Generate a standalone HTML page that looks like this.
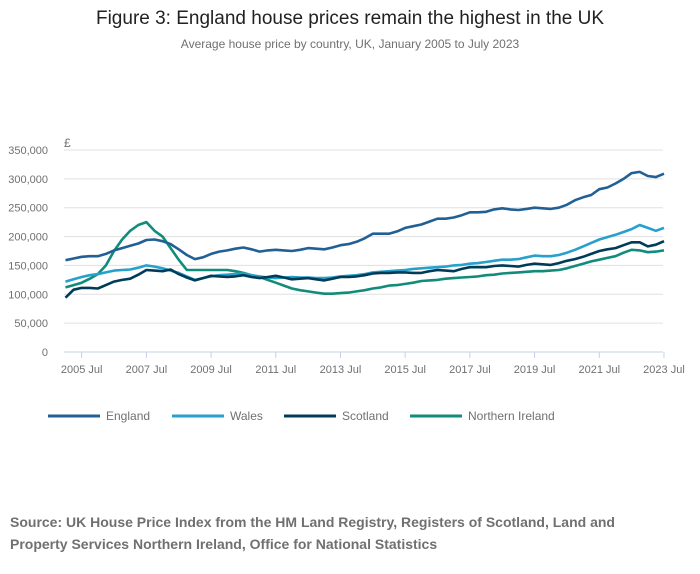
<!DOCTYPE html>
<html><head><meta charset="utf-8"><style>
body{margin:0;background:#fff;font-family:"Liberation Sans",sans-serif;}
#wrap{position:relative;width:700px;height:574px;overflow:hidden}
</style></head><body>
<div id="wrap">
<svg id="chart" width="700" height="574">
<text x="350" y="24" text-anchor="middle" font-size="19" fill="#222">Figure 3: England house prices remain the highest in the UK</text>
<text x="350" y="48" text-anchor="middle" font-size="12" fill="#707070">Average house price by country, UK, January 2005 to July 2023</text>
<text x="64" y="147" font-size="12" fill="#707070">£</text>
<g id="grid"></g><g id="lines"></g><g id="legend"></g>
<text x="10" y="527" font-size="14" font-weight="bold" fill="#707070">Source: UK House Price Index from the HM Land Registry, Registers of Scotland, Land and</text>
<text x="10" y="549" font-size="14" font-weight="bold" fill="#707070">Property Services Northern Ireland, Office for National Statistics</text>
</svg>
</div>
<script>
// months since Jan 2005, quarterly
const months = [];
for (let m = 0; m <= 222; m += 3) months.push(m);
const yTicks = [0,50000,100000,150000,200000,250000,300000,350000];
const xTickLabels = ["2005 Jul","2007 Jul","2009 Jul","2011 Jul","2013 Jul","2015 Jul","2017 Jul","2019 Jul","2021 Jul","2023 Jul"];
const xTickMonths = [6,30,54,78,102,126,150,174,198,222];
const seriesNames = ["England","Wales","Scotland","Northern Ireland"];
const seriesColors = ["#206095","#27a0cc","#003c57","#118c7b"];
const england = [159,162,165,166,166,170,176,180,184,188,194,195,192,187,178,168,161,164,170,174,176,179,181,178,174,176,177,176,175,177,180,179,178,181,185,187,191,197,205,205,205,209,215,218,221,226,231,231,233,237,242,242,243,247,249,247,246,248,250,249,248,250,255,263,268,272,282,285,292,300,310,312,305,303,309];
const wales = [122,126,130,133,135,138,141,142,143,146,150,148,145,141,137,131,125,128,131,133,134,135,136,133,131,129,128,129,130,129,129,128,128,129,131,132,133,135,138,139,140,141,142,144,145,146,147,148,150,151,153,154,156,158,160,160,161,164,167,166,166,168,172,177,183,189,195,199,203,208,213,220,215,210,215];
const scotland = [94,108,111,111,110,116,122,125,127,134,142,141,140,143,135,129,124,128,132,131,130,131,133,130,128,130,132,129,126,127,128,126,124,127,130,130,131,133,136,137,137,138,138,137,137,140,142,141,140,144,147,147,147,149,150,149,148,151,153,152,151,154,158,161,165,170,175,178,180,185,190,190,183,186,192];
const ni = [112,116,120,127,135,150,175,195,210,220,225,210,200,180,160,142,142,142,142,142,142,140,137,133,130,125,120,115,110,107,105,103,101,101,102,103,105,107,110,112,115,116,118,120,123,124,125,127,128,129,130,131,133,134,136,137,138,139,140,140,141,142,145,149,153,157,160,163,166,172,177,176,173,174,176];
const allSeries = [england, wales, scotland, ni];

const NS = "http://www.w3.org/2000/svg";
const x0 = 65.5, pxPerMonth = 32.35/12;
const y0 = 352, pxPerUnit = 202/350000;
function xScale(m){ return x0 + m*pxPerMonth; }
function yScale(v){ return y0 - v*pxPerUnit; }
function mk(tag, attrs, parent){ const e=document.createElementNS(NS,tag); for(const k in attrs) e.setAttribute(k,attrs[k]); parent.appendChild(e); return e; }

const grid = document.getElementById('grid');
yTicks.forEach((t,i)=>{
  const y = yScale(t);
  const gl = mk('line',{x1:64,x2:663,y1:y,y2:y,stroke: t===0?'#c6d1e6':'#e0e0e0','stroke-width':1},grid);
  
  
  const lb = mk('text',{x:48,y:y+4,'text-anchor':'end','font-size':11,fill:'#707070'},grid);
  lb.textContent = t===0?'0':t.toLocaleString('en-GB');
  
  
});
xTickMonths.forEach((m,i)=>{
  const x = xScale(m);
  const tk = mk('line',{x1:x,x2:x,y1:352,y2:358,stroke:'#c6d1e6','stroke-width':1},grid);
  
  
  const lb = mk('text',{x:x,y:373,'text-anchor':'middle','font-size':11,fill:'#707070'},grid);
  lb.textContent = xTickLabels[i];
  
  
});
const lines = document.getElementById('lines');
[3,1,2,0].forEach(si=>{
  const d = allSeries[si].map((v,i)=>(i?'L':'M')+xScale(months[i]).toFixed(1)+','+yScale(v*1000).toFixed(1)).join(' ');
  const p = mk('path',{d:d,fill:'none',stroke:seriesColors[si],'stroke-width':2.6,'stroke-linejoin':'round'},lines);
  
  
});
const legend = document.getElementById('legend');
const legX = [48,172,284,410];
seriesNames.forEach((n,i)=>{
  const g = mk('g',{},legend);
  
  
  mk('line',{x1:legX[i],x2:legX[i]+52,y1:416,y2:416,stroke:seriesColors[i],'stroke-width':3},g);
  const t = mk('text',{x:legX[i]+58,y:420,'font-size':12,fill:'#707070'},g);
  t.textContent = n;
});
</script>
</body></html>
